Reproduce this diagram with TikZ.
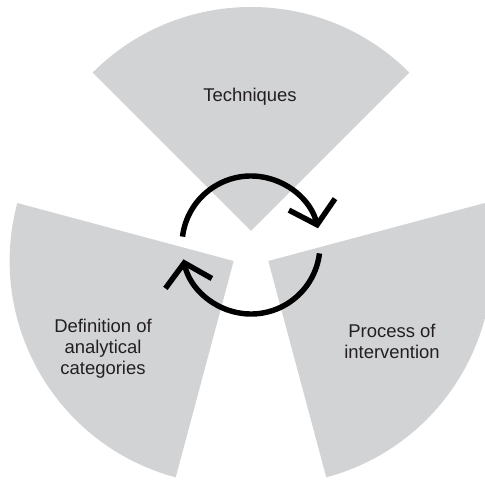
\documentclass[tikz,border=0pt]{standalone}
\usepackage{fontspec}
\setmainfont{Liberation Sans}
\usepackage{tikz}
\usetikzlibrary{arrows.meta, calc}
\definecolor{grisSector}{HTML}{D2D3D5}
\definecolor{textoSector}{HTML}{231F20}

\begin{document}
\begin{tikzpicture}[x=0.02cm, y=0.02cm,
        sector/.style={fill=grisSector, draw=none},
        lbl/.style={font=\fontsize{10.5}{12}\selectfont, text=textoSector, align=center, inner sep=0pt},
        ciclo/.style={line width=3.1pt, -{Straight Barb[length=4.2mm, width=9.5mm]}}]
        \useasboundingbox (0,0) rectangle (485,481);
        \coordinate (cc) at (251,230);
        % tres sectores separados del centro
        \fill[sector] ($(cc)+(90:20)$) coordinate (pT) -- ++(45:224) arc[start angle=45, end angle=135, radius=224] -- cycle;
        \fill[sector] ($(cc)+(210:20)$) coordinate (pL) -- ++(165:224) arc[start angle=165, end angle=255, radius=224] -- cycle;
        \fill[sector] ($(cc)+(330:20)$) coordinate (pR) -- ++(285:224) arc[start angle=285, end angle=375, radius=224] -- cycle;
        \node[lbl, anchor=base] (tec) at (250,379) {Techniques};
        \node[lbl] (def) at (103,132) {Definition of\\analytical\\categories};
        \node[lbl] (pro) at (392,140) {Process of\\intervention};
        % flechas circulares
        \coordinate (cf) at (251,236);
        \draw[ciclo] ($(cf)+(173:69)$) arc[start angle=173, end angle=14, radius=69];
        \draw[ciclo] ($(cf)+(-7:69)$) arc[start angle=-7, end angle=-168, radius=69];
    \end{tikzpicture}
\end{document}
